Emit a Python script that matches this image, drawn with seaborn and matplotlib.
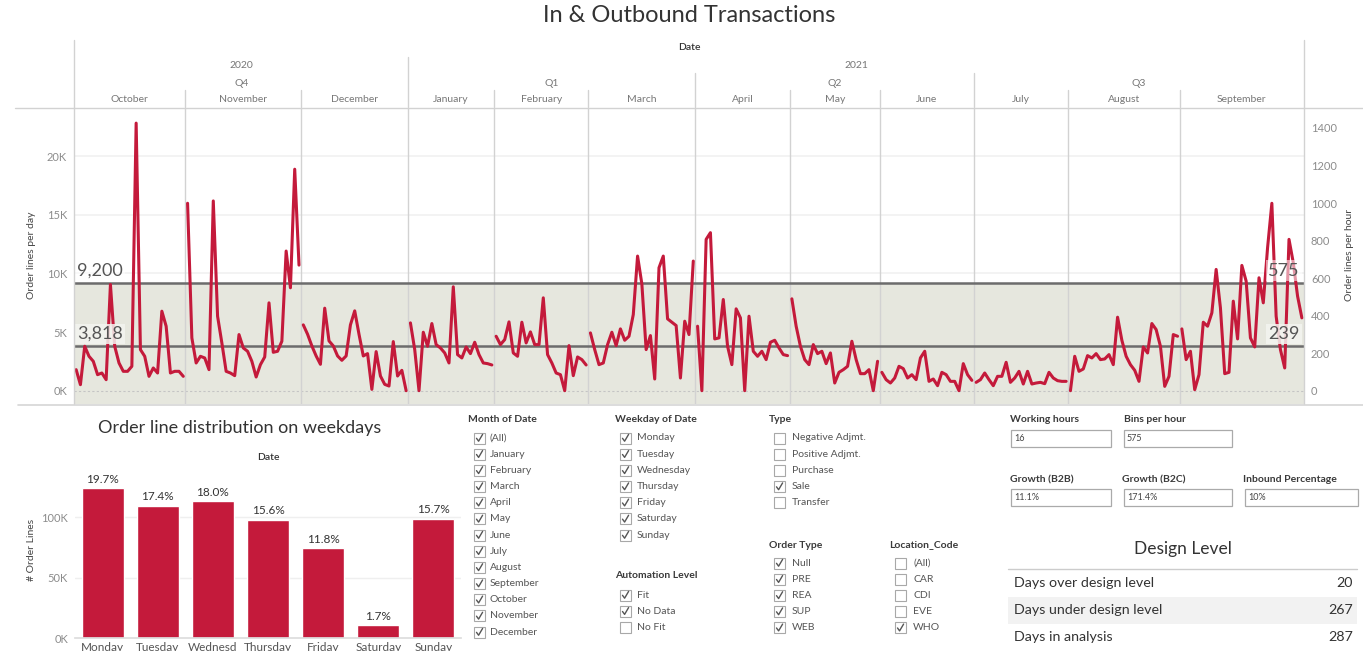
import numpy as np
import pandas as pd
import matplotlib
matplotlib.use("Agg")
import matplotlib.pyplot as plt
import seaborn as sns
from matplotlib.lines import Line2D
from matplotlib.patches import Rectangle

# ---------------- data ----------------
months = ["October", "November", "December", "January", "February", "March",
          "April", "May", "June", "July", "August", "September"]
oct_vals = [1794, 513, 3788, 2933, 2506, 1367, 1509, 940, 9057, 3788, 2364, 1652, 1652,
            2079, 22812, 3503, 2933, 1225, 1937, 1509, 6778, 5497, 1509, 1652, 1652, 1225]
nov_vals = [15977, 4500, 2364, 2933, 2791, 1794, 16177, 6351, 4073, 1652, 1509, 1282, 4785,
            3645, 3361, 2506, 1168, 2221, 2876, 7490, 3275, 3361, 4215, 11905, 8772, 18882, 10708]
dec_vals = [5611, 4813, 3816, 2962, 2250, 7035, 4244, 3816, 2962, 2592, 2962, 5611, 6807,
            4813, 2962, 3161, 114, 3332, 1253, 541, 399, 4187, 1253, 1737, 0]
jan_vals = [5781, 3503, 0, 4984, 3788, 5725, 3930, 3645, 3218, 2364, 8857, 3076, 2791,
            3731, 3161, 4130, 3076, 2364, 2307, 2193]
feb_vals = [4642, 3930, 4357, 5867, 3218, 2933, 5838, 4073, 5012, 3930, 3930, 7917, 3076,
            2364, 1509, 1367, 0, 3845, 1282, 2876, 2649, 2193]
mar_vals = [4927, 3503, 2221, 2364, 3930, 4984, 3845, 5269, 4300, 4642, 6493, 11477, 9100,
            3503, 4699, 997, 10481, 11477, 6123, 5838, 5554, 1082, 5924, 4785, 11050]
apr_vals = [5497, 0, 12901, 13471, 4414, 4500, 7775, 3788, 2221, 6978, 6209, 0, 6351,
            3361, 2933, 3361, 2649, 4130, 4300, 3645, 3076, 2990]
may_vals = [7832, 5497, 3788, 2649, 2221, 3930, 3161, 3361, 2307, 3218, 655, 1566, 1794,
            2079, 4215, 2649, 1452, 1452, 1794, 0, 2506]
jun_vals = [1566, 940, 655, 1082, 2079, 1880, 1082, 1367, 940, 2791, 3361, 797, 997, 427,
            1566, 1367, 797, 797, 0, 2307, 1367, 883]
jul_vals = [712, 940, 1509, 940, 427, 1225, 1225, 2421, 712, 1082, 1652, 570, 1652, 570,
            655, 712, 598, 1566, 1082, 854, 797, 797]
aug_vals = [0, 2933, 1652, 1851, 2990, 2791, 3161, 2649, 2706, 3076, 2221, 6266, 4300,
            2933, 2221, 1737, 797, 3731, 3218, 5725, 5212, 3788, 370, 1225, 4785, 4642]
sep_vals = [5269, 2649, 3361, 85, 1367, 5838, 5497, 6636, 10338, 7063, 1452, 1566, 7633,
            4414, 10680, 9341, 4500, 3731, 9626, 7490, 12189, 15977, 6351, 3503, 1937,
            12901, 10908, 8060, 6209]
month_series = [oct_vals, nov_vals, dec_vals, jan_vals, feb_vals, mar_vals,
                apr_vals, may_vals, jun_vals, jul_vals, aug_vals, sep_vals]
quarters = ["Q4", "Q1", "Q2", "Q3"]
quarter_months = [3, 3, 3, 3]
years = ["2020", "2021"]
year_quarters = [1, 3]

design_upper = 9200
design_lower = 3818
working_hours = 16

weekdays = ["Monday", "Tuesday", "Wednesday", "Thursday", "Friday", "Saturday", "Sunday"]
weekday_labels = ["Monday", "Tuesday", "Wednesd", "Thursday", "Friday", "Saturday", "Sunday"]
order_lines = [124000, 109500, 113300, 98200, 74300, 10700, 98900]

month_filter = ["(All)", "January", "February", "March", "April", "May", "June", "July",
                "August", "September", "October", "November", "December"]
month_checked = [True] * 13
weekday_filter = weekdays
weekday_checked = [True] * 7
type_filter = ["Negative Adjmt.", "Positive Adjmt.", "Purchase", "Sale", "Transfer"]
type_checked = [False, False, False, True, False]
automation_filter = ["Fit", "No Data", "No Fit"]
automation_checked = [True, True, False]
ordertype_filter = ["Null", "PRE", "REA", "SUP", "WEB"]
ordertype_checked = [True] * 5
location_filter = ["(All)", "CAR", "CDI", "EVE", "WHO"]
location_checked = [False, False, False, False, True]

params_row1 = [("Working hours", "16"), ("Bins per hour", "575")]
params_row2 = [("Growth (B2B)", "11.1%"), ("Growth (B2C)", "171.4%"), ("Inbound Percentage", "10%")]
design_rows = ["Days over design level", "Days under design level", "Days in analysis"]
design_vals = [20, 267, 287]

# ---------------- style ----------------
sns.set_theme(style="white")
plt.rcParams["font.family"] = ["Lato", "DejaVu Sans"]
RED = "#c41a3b"

W, H = 1363, 651
fig = plt.figure(figsize=(W / 100, H / 100), dpi=100)
fig.patch.set_facecolor("white")


def fx(x):
    return x / W


def fy(y):
    return 1 - y / H


def ftext(x, y, s, **kw):
    kw.setdefault("va", "center")
    fig.text(fx(x), fy(y), s, **kw)


def fline(x0, y0, x1, y1, **kw):
    fig.add_artist(Line2D([fx(x0), fx(x1)], [fy(y0), fy(y1)], transform=fig.transFigure, **kw))


def frect(x0, y0, x1, y1, **kw):
    fig.add_artist(Rectangle((fx(x0), fy(y1)), fx(x1) - fx(x0), fy(y0) - fy(y1),
                             transform=fig.transFigure, **kw))


# ---------------- main chart ----------------
PX0, PX1, PY0, PY1 = 74, 1304, 108, 404
ax = fig.add_axes([fx(PX0), fy(PY1), (PX1 - PX0) / W, (PY1 - PY0) / H])
rows = []
offset = 0
bounds = [0]
for m, vals in zip(months, month_series):
    for k, v in enumerate(vals):
        rows.append({"x": offset + k + 0.5, "orders": v, "month": m})
    offset += len(vals)
    bounds.append(offset)
df = pd.DataFrame(rows)
NT = offset
ylo, yhi = -1134, 24100

ax.axhspan(ylo - 1000, design_upper, color="#e6e7de", zorder=0, lw=0)
for v in [10000, 15000, 20000]:
    ax.axhline(v, color="#f1f1f1", lw=1.2, zorder=0.5)
ax.axhline(0, color="#c4c4c4", lw=0.8, ls=(0, (2, 2)), zorder=1)
for b in bounds[1:-1]:
    ax.axvline(b, color="#d2d2d2", lw=1, zorder=1)
ax.axhline(design_upper, color="#6c6c6c", lw=1.8, zorder=2)
ax.axhline(design_lower, color="#6c6c6c", lw=1.8, zorder=2)

sns.lineplot(data=df, x="x", y="orders", units="month", estimator=None, color=RED,
             lw=2.2, ax=ax, legend=False, zorder=3)
ax.set_xlim(0, NT)
ax.set_ylim(ylo, yhi)
ax.set_xticks([])
ax.set_yticks([0, 5000, 10000, 15000, 20000])
ax.set_yticklabels(["0K", "5K", "10K", "15K", "20K"])
ax.tick_params(axis="y", length=0, labelsize=8, labelcolor="#8c8c8c", pad=5)
ax.set_xlabel("")
ax.set_ylabel("")
for s in ax.spines.values():
    s.set_visible(False)
ax.set_facecolor("none")

ax2 = ax.twinx()
ax2.set_ylim(ylo / working_hours, yhi / working_hours)
ax2.set_yticks(np.arange(0, 1401, 200))
ax2.set_yticklabels([str(v) for v in range(0, 1401, 200)])
ax2.tick_params(axis="y", length=0, labelsize=8, labelcolor="#8c8c8c", pad=5)
for s in ax2.spines.values():
    s.set_visible(False)

lbl_kw = dict(fontsize=13, color="#555555", va="bottom", zorder=4)
ax.annotate(f"{design_upper:,}", xy=(0, design_upper), xycoords=("axes fraction", "data"),
            xytext=(2, 3), textcoords="offset points", ha="left",
            bbox=dict(boxstyle="square,pad=0.12", fc="white", ec="none", alpha=0.55), **lbl_kw)
ax.annotate(f"{design_lower:,}", xy=(0, design_lower), xycoords=("axes fraction", "data"),
            xytext=(2, 3), textcoords="offset points", ha="left",
            bbox=dict(boxstyle="square,pad=0.12", fc="#f4f4f0", ec="none", alpha=0.85), **lbl_kw)
ax.annotate(f"{round(design_upper / working_hours)}", xy=(1, design_upper),
            xycoords=("axes fraction", "data"), xytext=(-3, 3), textcoords="offset points",
            ha="right", bbox=dict(boxstyle="square,pad=0.12", fc="white", ec="none", alpha=0.55),
            **lbl_kw)
ax.annotate(f"{round(design_lower / working_hours)}", xy=(1, design_lower),
            xycoords=("axes fraction", "data"), xytext=(-3, 3), textcoords="offset points",
            ha="right", bbox=dict(boxstyle="square,pad=0.12", fc="#f4f4f0", ec="none", alpha=0.85),
            **lbl_kw)

ftext(32, 255, "Order lines per day", rotation=90, ha="center", fontsize=7.5, color="#444444")
ftext(1350, 255, "Order lines per hour", rotation=90, ha="center", fontsize=7.5, color="#444444")

# header
def bx(b):
    return PX0 + b / NT * (PX1 - PX0)

HC = "#d2d2d2"
fline(15, 107.5, W, 107.5, color=HC, lw=1)
fline(PX0, 40, PX0, PY1, color=HC, lw=1)
fline(PX1, 40, PX1, PY1, color=HC, lw=1)
ftext((PX0 + PX1) / 2, 48, "Date", ha="center", fontsize=7.5, fontweight="semibold", color="#333333")
qb = [0]
for n in quarter_months:
    qb.append(qb[-1] + n)
yb = [0]
for n in year_quarters:
    yb.append(yb[-1] + n)
for i, yr in enumerate(years):
    a, b = bounds[qb[yb[i]]], bounds[qb[yb[i + 1]]]
    ftext((bx(a) + bx(b)) / 2, 66, yr, ha="center", fontsize=7.5, color="#777777")
    if i > 0:
        fline(bx(a), 57, bx(a), 107, color=HC, lw=1)
for i, q in enumerate(quarters):
    a, b = bounds[qb[i]], bounds[qb[i + 1]]
    ftext((bx(a) + bx(b)) / 2, 83, q, ha="center", fontsize=7.5, color="#777777")
    if i > 0 and qb[i] not in [qb[yb[j]] for j in range(len(years))]:
        fline(bx(a), 73, bx(a), 107, color=HC, lw=1)
for i, m in enumerate(months):
    a, b = bounds[i], bounds[i + 1]
    ftext((bx(a) + bx(b)) / 2, 100, m, ha="center", fontsize=7.5, color="#777777")
    if i > 0 and i not in qb:
        fline(bx(a), 90, bx(a), 107, color=HC, lw=1)
fline(18, 405, W, 405, color="#d6d6d6", lw=1.2)

ftext(689, 16, "In & Outbound Transactions", ha="center", fontsize=17, color="#333333")

# ---------------- weekday bar chart ----------------
bax = fig.add_axes([fx(75), fy(638.3), (461 - 75) / W, (638.3 - 469) / H])
bdf = pd.DataFrame({"weekday": weekday_labels, "lines": order_lines})
for v in [50000, 100000]:
    bax.axhline(v, color="#efefef", lw=1, zorder=0)
sns.barplot(data=bdf, x="weekday", y="lines", color=RED, width=0.76, saturation=1,
            ax=bax, zorder=2)
bax.set_ylim(0, 140000)
bax.set_yticks([0, 50000, 100000])
bax.set_yticklabels(["0K", "50K", "100K"])
bax.tick_params(axis="y", length=0, labelsize=8, labelcolor="#8c8c8c", pad=5)
bax.tick_params(axis="x", length=0, labelsize=8.5, labelcolor="#555555", pad=2.5)
bax.set_xlabel("")
bax.set_ylabel("")
for s in ["top", "right", "left"]:
    bax.spines[s].set_visible(False)
bax.spines["bottom"].set_color("#dddddd")
bax.set_facecolor("none")
total = sum(order_lines)
for i, v in enumerate(order_lines):
    bax.annotate(f"{v / total * 100:.1f}%", xy=(i, v), xytext=(0, 6.5), textcoords="offset points",
                 ha="center", va="center", fontsize=8.5, color="#333333")
ftext(240, 428, "Order line distribution on weekdays", ha="center", fontsize=13, color="#333333")
ftext(268, 458, "Date", ha="center", fontsize=7.5, fontweight="semibold", color="#333333")
ftext(32, 550, "# Order Lines", rotation=90, ha="center", fontsize=7.5, color="#444444")

# ---------------- filter panels ----------------
def checkbox(x, y, checked):
    frect(x, y - 5.5, x + 11, y + 5.5, facecolor="white", edgecolor="#a8a8a8", lw=0.8)
    if checked:
        fig.add_artist(Line2D([fx(x + 2.5), fx(x + 4.6), fx(x + 8.6)],
                              [fy(y + 0.3), fy(y + 3.2), fy(y - 3.6)],
                              transform=fig.transFigure, color="#555555", lw=1.0))


def checklist(title, tx, ty, items, checked, box_x, text_x, y0, dy=16.17):
    ftext(tx, ty, title, ha="left", fontsize=7.5, fontweight="bold", color="#3a3a3a")
    for k, (it, c) in enumerate(zip(items, checked)):
        yy = y0 + k * dy
        checkbox(box_x, yy, c)
        ftext(text_x, yy, it, ha="left", fontsize=7.5, color="#555555")


checklist("Month of Date", 468, 420, month_filter, month_checked, 474, 490, 438)
checklist("Weekday of Date", 615, 420, weekday_filter, weekday_checked, 620, 637, 438)
checklist("Automation Level", 615, 576, automation_filter, automation_checked, 620, 637, 595)
checklist("Type", 769, 420, type_filter, type_checked, 774, 792, 438)
checklist("Order Type", 769, 545, ordertype_filter, ordertype_checked, 774, 792, 563)
checklist("Location_Code", 889, 545, location_filter, location_checked, 895, 913, 563)

# ---------------- parameters ----------------
def param(title, value, x, ty, bx0, bx1, by0, by1):
    ftext(x, ty, title, ha="left", fontsize=7.5, fontweight="bold", color="#3a3a3a")
    frect(bx0, by0, bx1, by1, facecolor="white", edgecolor="#aaaaaa", lw=0.9)
    ftext(bx0 + 3, (by0 + by1) / 2, value, ha="left", fontsize=6.5, color="#444444")


p1x = [(1010, 1011, 1111), (1124, 1124, 1232)]
for (t, v), (x, b0, b1) in zip(params_row1, p1x):
    param(t, v, x, 420, b0, b1, 430, 447)
p2x = [(1010, 1011, 1111), (1122, 1124, 1232), (1243, 1245, 1358)]
for (t, v), (x, b0, b1) in zip(params_row2, p2x):
    param(t, v, x, 480, b0, b1, 489, 506)

# ---------------- design level table ----------------
ftext(1183, 549, "Design Level", ha="center", fontsize=12.5, color="#333333")
fline(1008, 569, 1357, 569, color="#cccccc", lw=1)
frect(1008, 596.5, 1357, 623.5, facecolor="#f2f2f2", edgecolor="none")
for k, (r, v) in enumerate(zip(design_rows, design_vals)):
    yy = 583 + k * 27
    ftext(1014, yy, r, ha="left", fontsize=10.3, color="#333333")
    ftext(1353, yy, str(v), ha="right", fontsize=10.3, color="#333333")

fig.savefig("out.png", dpi=100)
